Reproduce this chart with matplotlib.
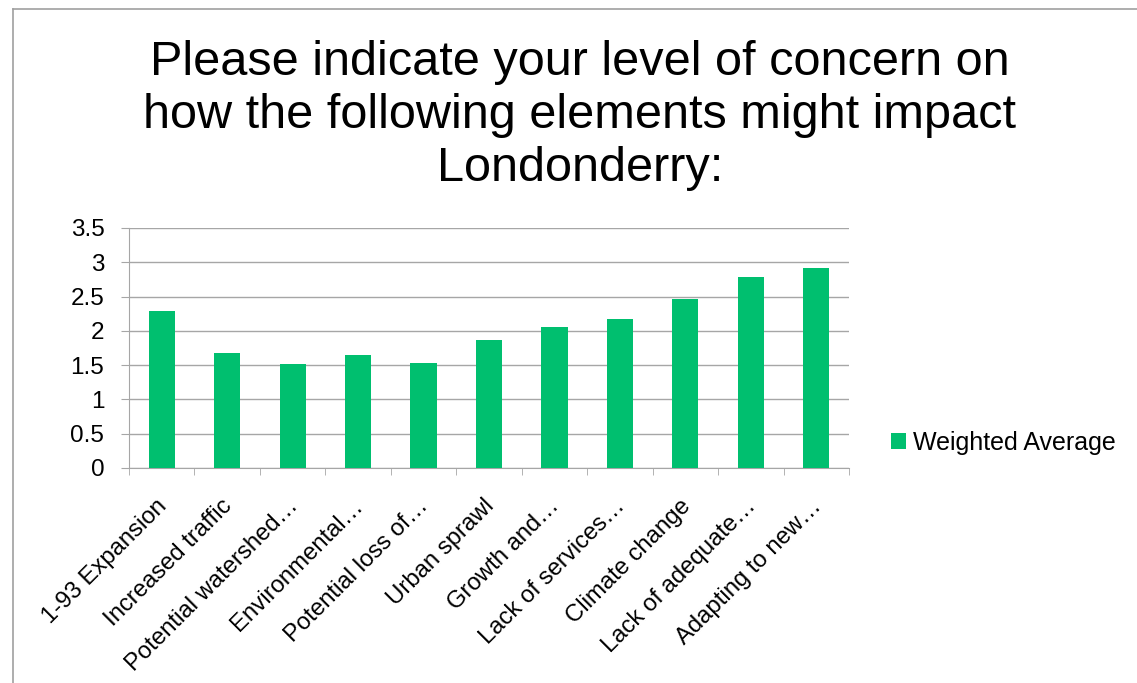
import matplotlib
matplotlib.use("Agg")
import matplotlib.pyplot as plt
import matplotlib.transforms as mtransforms
from matplotlib.lines import Line2D

plt.rcParams['font.family'] = ['Liberation Sans', 'DejaVu Sans']

categories = ["1-93 Expansion", "Increased traffic", "Potential watershed…",
              "Environmental…", "Potential loss of…", "Urban sprawl",
              "Growth and…", "Lack of services…", "Climate change",
              "Lack of adequate…", "Adapting to new…"]
values = [2.29, 1.67, 1.52, 1.65, 1.53, 1.86, 2.05, 2.17, 2.46, 2.79, 2.92]
series_name = "Weighted Average"
yticks = [0, 0.5, 1, 1.5, 2, 2.5, 3, 3.5]
ytick_labels = ["0", "0.5", "1", "1.5", "2", "2.5", "3", "3.5"]
title = "Please indicate your level of concern on\nhow the following elements might impact\nLondonderry:"

fig = plt.figure(figsize=(11.37, 6.83), dpi=100)
ax = fig.add_axes([0.1135, 0.3148, 0.6332, 0.3514])

x = list(range(len(categories)))
bars = ax.bar(x, values, width=0.4, color="#00BF6F", label=series_name, zorder=3)

ax.set_xlim(-0.5, len(categories) - 0.5)
ax.set_ylim(0, 3.5)
ax.set_yticks(yticks)
ax.set_yticklabels(ytick_labels, fontsize=17.5)
ax.grid(axis='y', color='#a6a6a6', linewidth=1.0, zorder=0)
ax.tick_params(axis='y', length=5.8, color='#a6a6a6', pad=12)

ax.set_xticks(x)
ax.set_xticklabels(categories, rotation=45, ha='right', rotation_mode='anchor', fontsize=17.2)
ax.tick_params(axis='x', length=0, pad=16)
offset = mtransforms.ScaledTranslation(-6 / 100, -5 / 100, fig.dpi_scale_trans)
for lbl in ax.get_xticklabels():
    lbl.set_transform(lbl.get_transform() + offset)
ax.set_xticks([i - 0.5 for i in range(len(categories) + 1)], minor=True)
ax.tick_params(axis='x', which='minor', length=5, color='#a6a6a6')

for s in ['top', 'right']:
    ax.spines[s].set_visible(False)
for s in ['left', 'bottom']:
    ax.spines[s].set_color('#a6a6a6')

fig.text(0.51, 0.941, title, ha='center', va='top', fontsize=35, linespacing=1.22)

fig.legend(handles=[bars], labels=[series_name], loc='center left',
           bbox_to_anchor=(891 / 1137, 0.3514), frameon=False, fontsize=18,
           handlelength=0.6, handleheight=0.6, handletextpad=0.3,
           borderpad=0, borderaxespad=0)

# slide frame
fig.add_artist(Line2D([0.011, 0.011], [0.0, 0.987], transform=fig.transFigure, color='#a0a0a0', linewidth=1.2))
fig.add_artist(Line2D([0.011, 1.0], [0.987, 0.987], transform=fig.transFigure, color='#a0a0a0', linewidth=1.2))

fig.savefig("out.png", dpi=100)
